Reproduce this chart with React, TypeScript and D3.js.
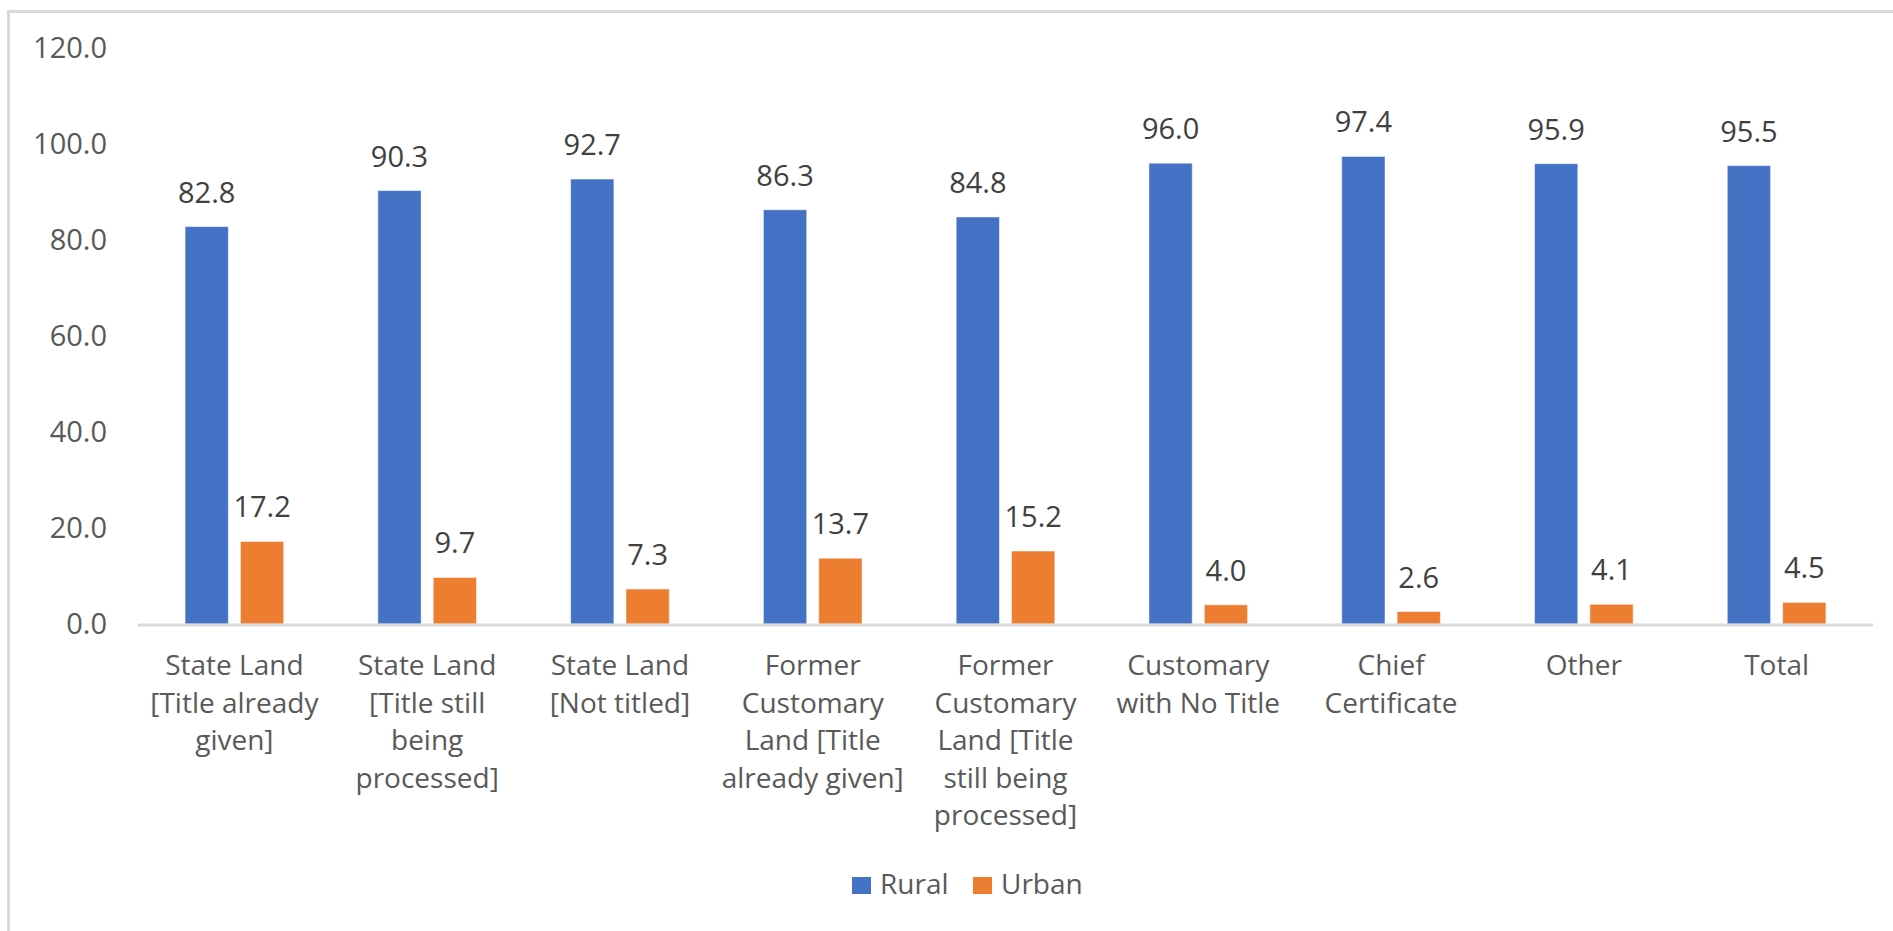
import React from "react";
import * as d3 from "d3";

const categories: string[][] = [
  ["State Land", "[Title already", "given]"],
  ["State Land", "[Title still", "being", "processed]"],
  ["State Land", "[Not titled]"],
  ["Former", "Customary", "Land [Title", "already given]"],
  ["Former", "Customary", "Land [Title", "still being", "processed]"],
  ["Customary", "with No Title"],
  ["Chief", "Certificate"],
  ["Other"],
  ["Total"],
];
const rural = [82.8, 90.3, 92.7, 86.3, 84.8, 96.0, 97.4, 95.9, 95.5];
const urban = [17.2, 9.7, 7.3, 13.7, 15.2, 4.0, 2.6, 4.1, 4.5];
const seriesNames = ["Rural", "Urban"];
const seriesColors = ["#4472C4", "#ED7D31"];
const yTicks = [0, 20, 40, 60, 80, 100, 120];

const W = 1893;
const H = 931;
const FONT = "'Open Sans', 'Noto Sans', sans-serif";
const TEXT = "#595959";

export default function App() {
  const left = 138;
  const right = 1873;
  const top = 48;
  const bottom = 624;
  const keys = categories.map((_, i) => String(i));
  const x0 = d3.scaleBand<string>().domain(keys).range([left, right]).paddingInner(0).paddingOuter(0);
  const x1 = d3
    .scaleBand<string>()
    .domain(seriesNames)
    .range([0, x0.bandwidth()])
    .paddingInner(0.218)
    .paddingOuter(0.85);
  const y = d3.scaleLinear().domain([0, 120]).range([bottom, top]);
  const series = [rural, urban];

  return (
    <svg width={W} height={H} style={{ display: "block", position: "absolute", left: 0, top: 0 }}>
      <rect x={0} y={0} width={W} height={H} fill="#ffffff" />
      <rect x={8.5} y={11.5} width={W + 20} height={H + 20} fill="none" stroke="#d9d9d9" strokeWidth={3} />
      {yTicks.map((t) => (
        <text
          key={t}
          x={107}
          y={y(t)}
          dy="0.36em"
          textAnchor="end"
          fontFamily={FONT}
          fontSize={29}
          fill={TEXT}
        >
          {t.toFixed(1)}
        </text>
      ))}
      {series.map((vals, si) =>
        vals.map((v, i) => {
          const bx = (x0(String(i)) as number) + (x1(seriesNames[si]) as number);
          const bw = x1.bandwidth();
          return (
            <g key={`${si}-${i}`}>
              <rect
                x={bx}
                y={y(v)}
                width={bw}
                height={y(0) - y(v)}
                fill={seriesColors[si]}
                stroke="#ffffff"
                strokeOpacity={0.5}
                strokeWidth={1}
              />
              <text
                x={bx + bw / 2}
                y={y(v) - 24}
                textAnchor="middle"
                fontFamily={FONT}
                fontSize={29}
                fill="#404040"
              >
                {v.toFixed(1)}
              </text>
            </g>
          );
        })
      )}
      <line x1={left} x2={right} y1={bottom + 1} y2={bottom + 1} stroke="#d9d9d9" strokeWidth={3} />
      {categories.map((lines, i) => {
        const cx = (x0(String(i)) as number) + x0.bandwidth() / 2;
        return (
          <text key={i} textAnchor="middle" fontFamily={FONT} fontSize={28} fill={TEXT}>
            {lines.map((ln, j) => (
              <tspan key={j} x={cx} y={675 + j * 37.5}>
                {ln}
              </tspan>
            ))}
          </text>
        );
      })}
      {seriesNames.map((name, si) => {
        const lx = si === 0 ? 852 : 973;
        return (
          <g key={name}>
            <rect x={lx} y={877} width={19} height={17} fill={seriesColors[si]} />
            <text x={lx + 28} y={894} fontFamily={FONT} fontSize={28} fill={TEXT}>
              {name}
            </text>
          </g>
        );
      })}
    </svg>
  );
}
